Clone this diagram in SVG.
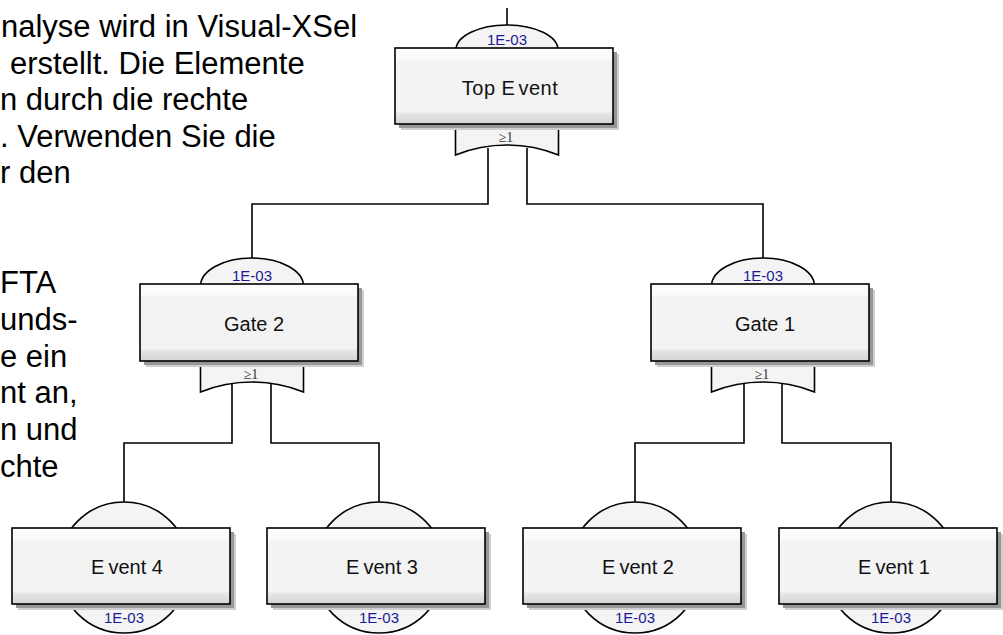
<svg xmlns="http://www.w3.org/2000/svg" width="1003" height="635" viewBox="0 0 1003 635">
  <style>
    .body { font-family: "Liberation Sans", Arial, sans-serif; font-size: 31px; fill: #000; }
    .label { font-family: "Liberation Sans", Arial, sans-serif; font-size: 20px; fill: #111; text-anchor: middle; }
    .prob { font-family: "Liberation Sans", Arial, sans-serif; font-size: 15px; fill: #1a1a96; text-anchor: middle; }
    .or { font-family: "Liberation Serif", "Times New Roman", serif; font-size: 14px; fill: #333; text-anchor: middle; }
    .box { fill: url(#boxFill); stroke: #000; stroke-width: 1.6; }
    .sh1 { fill: #cfcfcf; }
    .sh2 { fill: #979797; }
    .part { fill: #f4f4f4; stroke: #000; stroke-width: 1.6; }
    .wire { fill: none; stroke: #000; stroke-width: 1.6; }
  </style>
  <defs>
    <linearGradient id="boxFill" x1="0" y1="0" x2="0" y2="1">
      <stop offset="0" stop-color="#fcfcfc"/>
      <stop offset="0.14" stop-color="#fbfbfb"/>
      <stop offset="0.16" stop-color="#f3f3f3"/>
      <stop offset="0.84" stop-color="#f3f3f3"/>
      <stop offset="0.86" stop-color="#e6e6e6"/>
      <stop offset="1" stop-color="#d4d4d4"/>
    </linearGradient>
  </defs>
  <rect width="1003" height="635" fill="#fff"/>

  <!-- explanatory text along the left edge -->
  <g id="notes" class="body">
    <text x="1" y="37">nalyse wird in Visual-XSel</text>
    <text x="10" y="73.5">erstellt. Die Elemente</text>
    <text x="0" y="110">n durch die rechte</text>
    <text x="0" y="146.7">. Verwenden Sie die</text>
    <text x="0" y="183.3">r den</text>
    <text x="0" y="293.3">FTA</text>
    <text x="0" y="330">unds-</text>
    <text x="0" y="366.7">e ein</text>
    <text x="0" y="403.3">nt an,</text>
    <text x="0" y="440">n und</text>
    <text x="0" y="476.7">chte</text>
  </g>

  <!-- connectors -->
  <g id="connectors" class="wire">
    <path d="M507,8 V25"/>
    <path d="M488,148 V204 H252 V258"/>
    <path d="M527,148 V204 H763 V258"/>
    <path d="M232,384 V443 H124 V502"/>
    <path d="M271,384 V443 H379 V502"/>
    <path d="M744,384 V443 H635 V502"/>
    <path d="M782,384 V443 H891 V502"/>
  </g>

  <!-- top event with OR gate -->
  <g id="top-event">
    <path class="part" d="M455.5,155 V120 H558.5 V155 A138,138 0 0 0 455.5,155 Z"/>
    <path class="part" d="M456,50 A51,25 0 0 1 558,50 Z"/>
    <rect class="sh1" x="401" y="54" width="218" height="76"/>
    <rect class="sh2" x="399" y="52" width="218" height="76"/>
    <rect class="box" x="395" y="48" width="218" height="76"/>
    <text class="prob" x="507" y="45">1E-03</text>
    <text class="label" x="510" y="94.5" letter-spacing="0.5">Top E<tspan dx="3">vent</tspan></text>
    <text class="or" x="506" y="142">≥1</text>
  </g>

  <!-- gate 2 -->
  <g id="gate-2">
    <path class="part" d="M200.5,392 V356 H303.5 V392 A138,138 0 0 0 200.5,392 Z"/>
    <path class="part" d="M200.5,286 A51.5,28 0 0 1 303.5,286 Z"/>
    <rect class="sh1" x="146" y="290" width="218" height="77"/>
    <rect class="sh2" x="144" y="288" width="218" height="77"/>
    <rect class="box" x="140" y="284" width="218" height="77"/>
    <text class="prob" x="252" y="281">1E-03</text>
    <text class="label" x="254" y="331">Gate 2</text>
    <text class="or" x="251" y="379">≥1</text>
  </g>

  <!-- gate 1 -->
  <g id="gate-1">
    <path class="part" d="M711.5,392 V356 H814.5 V392 A138,138 0 0 0 711.5,392 Z"/>
    <path class="part" d="M711.5,286 A51.5,28 0 0 1 814.5,286 Z"/>
    <rect class="sh1" x="657" y="290" width="218" height="77"/>
    <rect class="sh2" x="655" y="288" width="218" height="77"/>
    <rect class="box" x="651" y="284" width="218" height="77"/>
    <text class="prob" x="763" y="281">1E-03</text>
    <text class="label" x="765" y="331">Gate 1</text>
    <text class="or" x="762" y="379">≥1</text>
  </g>

  <!-- basic events -->
  <g id="event-4">
    <circle class="part" cx="124" cy="567.5" r="65.5"/>
    <rect class="sh1" x="18" y="534" width="218" height="76"/>
    <rect class="sh2" x="16" y="532" width="218" height="76"/>
    <rect class="box" x="12" y="528" width="218" height="76"/>
    <text class="label" x="127" y="574">E<tspan dx="4">vent 4</tspan></text>
    <text class="prob" x="124" y="623">1E-03</text>
  </g>
  <g id="event-3">
    <circle class="part" cx="379" cy="567.5" r="65.5"/>
    <rect class="sh1" x="273" y="534" width="218" height="76"/>
    <rect class="sh2" x="271" y="532" width="218" height="76"/>
    <rect class="box" x="267" y="528" width="218" height="76"/>
    <text class="label" x="382" y="574">E<tspan dx="4">vent 3</tspan></text>
    <text class="prob" x="379" y="623">1E-03</text>
  </g>
  <g id="event-2">
    <circle class="part" cx="635" cy="567.5" r="65.5"/>
    <rect class="sh1" x="529" y="534" width="218" height="76"/>
    <rect class="sh2" x="527" y="532" width="218" height="76"/>
    <rect class="box" x="523" y="528" width="218" height="76"/>
    <text class="label" x="638" y="574">E<tspan dx="4">vent 2</tspan></text>
    <text class="prob" x="635" y="623">1E-03</text>
  </g>
  <g id="event-1">
    <circle class="part" cx="891" cy="567.5" r="65.5"/>
    <rect class="sh1" x="785" y="534" width="218" height="76"/>
    <rect class="sh2" x="783" y="532" width="218" height="76"/>
    <rect class="box" x="779" y="528" width="218" height="76"/>
    <text class="label" x="894" y="574">E<tspan dx="4">vent 1</tspan></text>
    <text class="prob" x="891" y="623">1E-03</text>
  </g>
</svg>
